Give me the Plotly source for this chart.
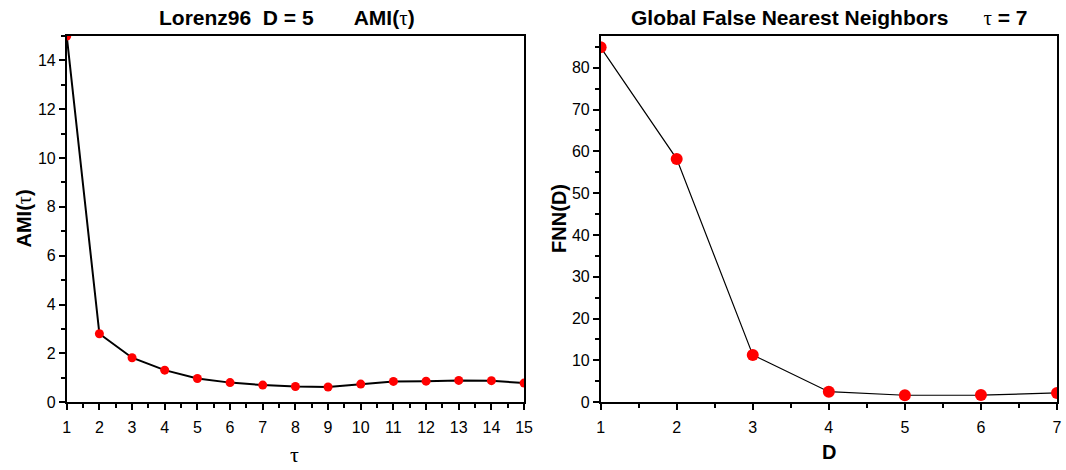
import plotly.graph_objects as go

# Average mutual information vs. delay
tau = list(range(1, 16))
ami = [15.0, 2.80, 1.82, 1.31, 0.97, 0.80, 0.70, 0.64, 0.62, 0.74, 0.85, 0.86, 0.89, 0.88, 0.78]

# Global false nearest neighbours vs. embedding dimension
dim = [1, 2, 3, 4, 5, 6, 7]
fnn = [84.9, 58.2, 11.3, 2.5, 1.65, 1.7, 2.2]

W, H = 1066, 470
FONT = "Liberation Sans, Arial, sans-serif"
TAU = '<span style="font-family:Liberation Serif;font-weight:normal">τ</span>'

fig = go.Figure()
fig.add_trace(go.Scatter(
    x=tau, y=ami, mode="lines+markers", cliponaxis=True,
    line=dict(color="black", width=2),
    marker=dict(color="#ff0000", size=9),
    xaxis="x", yaxis="y", showlegend=False))
fig.add_trace(go.Scatter(
    x=dim, y=fnn, mode="lines+markers", cliponaxis=True,
    line=dict(color="black", width=1.2),
    marker=dict(color="#ff0000", size=12),
    xaxis="x2", yaxis="y2", showlegend=False))

ybot = 1 - 410 / H
ytop = 1 - 36.7 / H

axis_common = dict(
    showgrid=False, zeroline=False, showline=True, linecolor="black", linewidth=1.5,
    mirror=True, ticks="outside", ticklen=6, tickwidth=1.5, tickcolor="black",
    tickfont=dict(family=FONT, size=16, color="black"),
    minor=dict(ticks="outside", ticklen=4, tickwidth=1.5, tickcolor="black"),
)

fig.update_layout(
    width=W, height=H, margin=dict(l=0, r=0, t=0, b=0),
    paper_bgcolor="white", plot_bgcolor="white",
    font=dict(family=FONT, color="black"),
    xaxis=dict(axis_common, domain=[63.5 / W, 526.5 / W], range=[1, 15],
               tickmode="linear", tick0=1, dtick=1, ticklabelstandoff=4,
               minor=dict(axis_common["minor"], dtick=0.5)),
    yaxis=dict(axis_common, domain=[ybot, ytop], range=[0, 15],
               tickmode="linear", tick0=0, dtick=2,
               minor=dict(axis_common["minor"], dtick=1)),
    xaxis2=dict(axis_common, domain=[604 / W, 1.0], range=[1, 7.0],
                tickmode="linear", tick0=1, dtick=1, anchor="y2", ticklabelstandoff=4,
                minor=dict(axis_common["minor"], dtick=0.5)),
    yaxis2=dict(axis_common, domain=[ybot, ytop], range=[0, 87.6], anchor="x2",
                tickmode="linear", tick0=0, dtick=10,
                minor=dict(axis_common["minor"], dtick=5)),
)

def note(text, x, y, size, bold=True, angle=0):
    fig.add_annotation(
        text=f"<b>{text}</b>" if bold else text, x=x / W, y=1 - y / H,
        xref="paper", yref="paper", showarrow=False, textangle=angle,
        font=dict(family=FONT, size=size, color="black"),
        xanchor="center", yanchor="middle")

note(f"Lorenz96  D = 5       AMI({TAU})", 286, 18, 21)
note(f"Global False Nearest Neighbors      {TAU} = 7", 836, 18, 21)
note(f"AMI({TAU})", 20, 223, 20, angle=-90)
note("FNN(D)", 562, 223, 20, angle=-90)
note(TAU, 294.5, 463, 22, bold=False)
note("D", 835, 461, 20)

fig.write_html("out.html")
